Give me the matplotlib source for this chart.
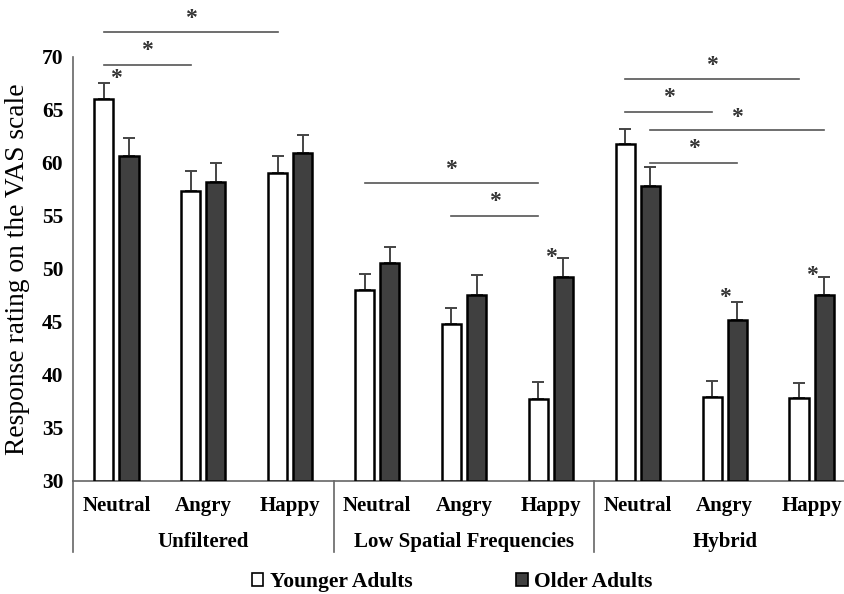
import matplotlib
matplotlib.use("Agg")
import matplotlib.pyplot as plt
from matplotlib.patches import Patch
import matplotlib.transforms as mtransforms
import numpy as np

plt.rcParams['font.family'] = ['Liberation Serif', 'DejaVu Serif']

emotions = ["Neutral", "Angry", "Happy"] * 3
groups = ["Unfiltered", "Low Spatial Frequencies", "Hybrid"]
series_names = ["Younger Adults", "Older Adults"]

younger = [66.0, 57.4, 59.1, 48.0, 44.8, 37.7, 61.8, 37.9, 37.8]
younger_err = [1.5, 1.8, 1.6, 1.5, 1.5, 1.6, 1.4, 1.5, 1.4]
older = [60.7, 58.2, 60.9, 50.6, 47.5, 49.2, 57.8, 45.2, 47.5]
older_err = [1.7, 1.8, 1.7, 1.5, 1.9, 1.8, 1.8, 1.7, 1.7]

# significance brackets: (x_start_cat, x_start_series, x_end_cat, x_end_series, y_line, y_star)
brackets = [
    (0, 0, 2, 0, 72.4, 73.6),
    (0, 0, 1, 0, 69.2, 70.6),
    (3, 0, 5, 0, 58.1, 59.4),
    (4, 0, 5, 0, 55.0, 56.4),
    (6, 0, 8, 0, 67.9, 69.2),
    (6, 0, 7, 0, 64.8, 66.2),
    (6, 1, 8, 1, 63.1, 64.3),
    (6, 1, 7, 1, 60.0, 61.4),
]
# single stars: (category, y)
single_stars = [(0, 68.0), (5, 51.1), (7, 47.3), (8, 49.4)]

fig = plt.figure(figsize=(8.44, 5.94), dpi=100)
left_px, right_px, top_px, bot_px = 73, 855, 57, 481
W, H = 844, 594
ax = fig.add_axes([left_px / W, (H - bot_px) / H, (right_px - left_px) / W, (bot_px - top_px) / H])

x = np.arange(len(emotions))
off = 0.145
bw = 0.22
dark = '#404040'
ax.bar(x - off, np.array(younger) - 30, bw, bottom=30, color='white', edgecolor='black', linewidth=1.8, zorder=3)
ax.bar(x + off, np.array(older) - 30, bw, bottom=30, color=dark, edgecolor='black', linewidth=1.8, zorder=3)
ax.errorbar(x - off, younger, yerr=[np.zeros(9), younger_err], fmt='none', ecolor='#444444', elinewidth=1.4, capsize=4, capthick=1.4, zorder=2)
ax.errorbar(x + off, older, yerr=[np.zeros(9), older_err], fmt='none', ecolor='#444444', elinewidth=1.4, capsize=4, capthick=1.4, zorder=2)

ax.set_ylim(30, 70)
ax.set_xlim(-0.5, 8.5)
ax.set_yticks(np.arange(30, 71, 5))
ax.tick_params(axis='y', length=0, pad=7, labelsize=15.5)
for lbl in ax.get_yticklabels():
    lbl.set_fontweight('bold')
ax.set_xticks(x)
ax.set_xticklabels(emotions, fontsize=15, fontweight='bold')
ax.tick_params(axis='x', length=0, pad=11)
for s in ['top', 'right']:
    ax.spines[s].set_visible(False)
for s in ['left', 'bottom']:
    ax.spines[s].set_color('#666666')
    ax.spines[s].set_linewidth(1.2)
fig.text(18 / W, 1 - 269 / H, "Response rating on the VAS scale", rotation=90, ha='center', va='center', fontsize=19.8)

trans = mtransforms.blended_transform_factory(ax.transData, ax.transAxes)
low = (bot_px - 552) / (bot_px - top_px)
for xd in [-0.5, 2.5, 5.5, 8.5]:
    ax.plot([xd, xd], [0, low], transform=trans, color='#666666', lw=1.2, clip_on=False)
grp_y = (bot_px - 542) / (bot_px - top_px)
for i, g in enumerate(groups):
    ax.text(3 * i + 1, grp_y, g, transform=trans, ha='center', va='center', fontsize=15, fontweight='bold')

for (c0, s0, c1, s1, yl, ys) in brackets:
    x0 = c0 + (off if s0 else -off)
    x1 = c1 + (off if s1 else -off)
    ax.plot([x0, x1], [yl, yl], color='#555555', lw=1.2, clip_on=False)
    ax.text((x0 + x1) / 2, ys, '*', ha='center', va='center', fontsize=17, fontweight='bold', color='#333333')
for (c, ys) in single_stars:
    ax.text(c, ys, '*', ha='center', va='center', fontsize=17, fontweight='bold', color='#333333')

handles = [Patch(facecolor='white', edgecolor='black', linewidth=1.2), Patch(facecolor=dark, edgecolor='black', linewidth=1.2)]
fig.legend(handles, series_names, loc='center', bbox_to_anchor=(452 / W, (H - 582) / H), ncol=2, frameon=False,
           prop={'size': 15.5, 'weight': 'bold'}, handlelength=0.55, handleheight=0.55, handletextpad=0.3, columnspacing=4.8)

fig.savefig('out.png', dpi=100)
